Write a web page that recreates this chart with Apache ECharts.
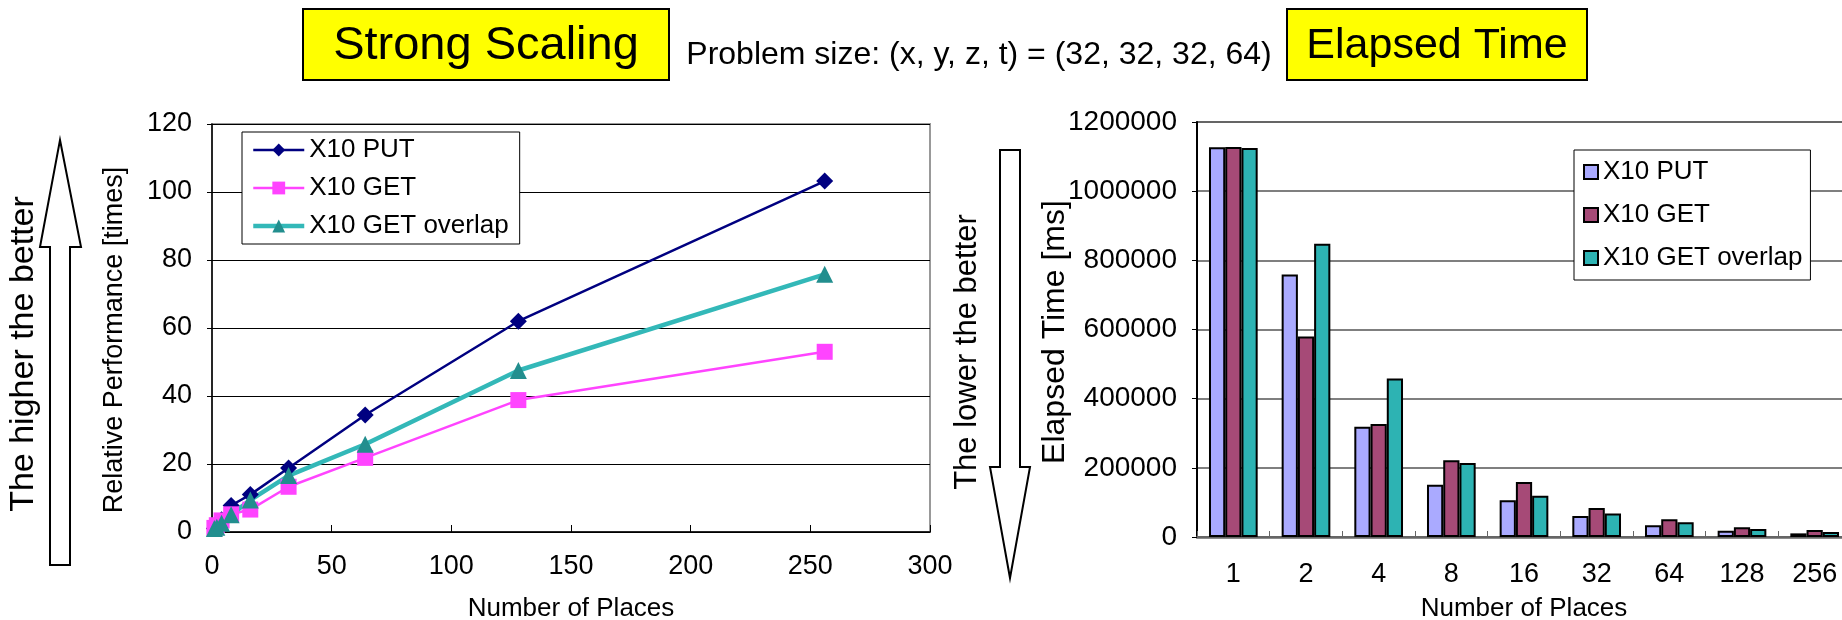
<!DOCTYPE html>
<html>
<head>
<meta charset="utf-8">
<script src="https://cdn.jsdelivr.net/npm/echarts@6/dist/echarts.min.js"></script>
<style>
  html, body { margin: 0; padding: 0; background: #fff; }
  #main { width: 1842px; height: 620px; }
</style>
</head>
<body>
<div id="main"></div>
<script>
// number of places (x values / categories)
var places = [1, 2, 4, 8, 16, 32, 64, 128, 256];
var seriesNames = ['X10 PUT', 'X10 GET', 'X10 GET overlap'];

// strong scaling: relative performance [times]
var perfPut     = [1, 1.5, 3.6, 7.8, 11, 18.8, 34.4, 62, 103.2];
var perfGet     = [1.2, 2, 3.4, 5.2, 6.6, 13.3, 21.8, 38.8, 53];
var perfOverlap = [1, 1.4, 2.6, 5.1, 9.4, 16.6, 25.8, 47.5, 75.8];

// elapsed time [ms]
var timePut     = [1127000, 759000, 319000, 151000, 106000, 61000, 34000, 18000, 10500];
var timeGet     = [1128000, 580000, 327000, 222000, 159000, 84000, 51000, 28000, 20000];
var timeOverlap = [1125000, 848000, 458000, 214000, 119000, 68000, 42500, 23000, 14500];

var FONT = '"Liberation Sans", Arial, sans-serif';
var barColors = ['#AAAAFF', '#A64A77', '#2DB3B3'];
var lineWidths = [2.5, 2.5, 4.5];

function pairs(vals) {
  return places.map(function (p, i) { return [p, vals[i]]; });
}

var chart = echarts.init(document.getElementById('main'));

var option = {
  animation: false,
  backgroundColor: '#fff',
  textStyle: { fontFamily: FONT, color: '#000' },
  grid: [
    { left: 212, top: 124, width: 718, height: 408, outerBoundsMode: 'none',
      show: true, borderColor: '#999', borderWidth: 2 },
    { left: 1197, top: 122, width: 654, height: 415, outerBoundsMode: 'none',
      show: true, borderColor: '#999', borderWidth: 2 }
  ],
  legend: [
    {
      selectedMode: false,
      orient: 'vertical',
      left: 242, top: 132,
      padding: [5, 11, 5, 9],
      itemGap: 12,
      itemWidth: 51, itemHeight: 16,
      backgroundColor: '#fff', borderColor: '#000', borderWidth: 1,
      textStyle: { fontSize: 26, lineHeight: 26, color: '#000', fontFamily: FONT },
      data: seriesNames.map(function (n, i) {
        return { name: n, lineStyle: { width: lineWidths[i] } };
      })
    },
    {
      selectedMode: false,
      orient: 'vertical',
      left: 1574, top: 150,
      padding: [9, 8, 9, 9],
      itemGap: 17,
      itemWidth: 14, itemHeight: 14,
      backgroundColor: '#fff', borderColor: '#000', borderWidth: 1,
      textStyle: { fontSize: 26, lineHeight: 26, color: '#000', fontFamily: FONT },
      data: seriesNames.map(function (n, i) {
        return { name: n, icon: 'rect', itemStyle: { color: barColors[i], borderColor: '#000', borderWidth: 2 } };
      })
    }
  ],
  xAxis: [
    {
      gridIndex: 0, type: 'value', min: 0, max: 300, interval: 50,
      axisLine: { lineStyle: { color: '#000', width: 1.5 } },
      axisTick: { show: true, inside: true, length: 7, lineStyle: { color: '#000' } },
      axisLabel: { fontSize: 27, margin: 21, color: '#000', fontFamily: FONT },
      splitLine: { show: false },
      name: 'Number of Places', nameLocation: 'middle', nameGap: 64,
      nameTextStyle: { fontSize: 26, color: '#000', fontFamily: FONT }
    },
    {
      gridIndex: 1, type: 'category', data: places.map(String),
      axisLine: { lineStyle: { color: '#666', width: 2.5 } },
      axisTick: { show: true, inside: true, length: 6, lineStyle: { color: '#666' } },
      axisLabel: { fontSize: 27, margin: 24, color: '#000', fontFamily: FONT },
      name: 'Number of Places', nameLocation: 'middle', nameGap: 59,
      nameTextStyle: { fontSize: 26, color: '#000', fontFamily: FONT }
    }
  ],
  yAxis: [
    {
      gridIndex: 0, type: 'value', min: 0, max: 120, interval: 20,
      axisLine: { show: true, lineStyle: { color: '#000', width: 1.5 } },
      axisTick: { show: true, length: 5, lineStyle: { color: '#000' } },
      axisLabel: { fontSize: 27, margin: 20, color: '#000', fontFamily: FONT },
      splitLine: { lineStyle: { color: '#000', width: 1 } }
    },
    {
      gridIndex: 1, type: 'value', min: 0, max: 1200000, interval: 200000,
      axisLine: { show: true, lineStyle: { color: '#000', width: 2 } },
      axisTick: { show: true, length: 5, lineStyle: { color: '#000' } },
      axisLabel: {
        fontSize: 28, margin: 20, color: '#000', fontFamily: FONT,
        formatter: function (v) { return String(v); }
      },
      splitLine: { lineStyle: { color: '#555', width: 1.5 } }
    }
  ],
  series: [
    {
      name: 'X10 PUT', type: 'line', xAxisIndex: 0, yAxisIndex: 0,
      data: pairs(perfPut),
      symbol: 'diamond', symbolSize: 17, showSymbol: true,
      lineStyle: { color: '#000080', width: lineWidths[0] },
      itemStyle: { color: '#000080' }
    },
    {
      name: 'X10 GET', type: 'line', xAxisIndex: 0, yAxisIndex: 0,
      data: pairs(perfGet),
      symbol: 'rect', symbolSize: 16, showSymbol: true,
      lineStyle: { color: '#FF44FF', width: lineWidths[1] },
      itemStyle: { color: '#FF44FF' }
    },
    {
      name: 'X10 GET overlap', type: 'line', xAxisIndex: 0, yAxisIndex: 0,
      data: pairs(perfOverlap),
      symbol: 'triangle', symbolSize: 17, showSymbol: true,
      lineStyle: { color: '#33B8B8', width: lineWidths[2] },
      itemStyle: { color: '#228E8E' }
    },
    {
      name: 'X10 PUT', type: 'bar', xAxisIndex: 1, yAxisIndex: 1,
      data: timePut, barGap: '0%', barCategoryGap: '33%',
      itemStyle: { color: barColors[0], borderColor: '#000', borderWidth: 2 }
    },
    {
      name: 'X10 GET', type: 'bar', xAxisIndex: 1, yAxisIndex: 1,
      data: timeGet, barGap: '0%', barCategoryGap: '33%',
      itemStyle: { color: barColors[1], borderColor: '#000', borderWidth: 2 }
    },
    {
      name: 'X10 GET overlap', type: 'bar', xAxisIndex: 1, yAxisIndex: 1,
      data: timeOverlap, barGap: '0%', barCategoryGap: '33%',
      itemStyle: { color: barColors[2], borderColor: '#000', borderWidth: 2 }
    }
  ],
  graphic: [
    // title boxes
    { type: 'rect', shape: { x: 303, y: 9, width: 366, height: 71 },
      style: { fill: '#FFFF00', stroke: '#000', lineWidth: 2 } },
    { type: 'text', x: 486, y: 46,
      style: { text: 'Strong Scaling', font: '47px ' + FONT, fill: '#000', align: 'center', verticalAlign: 'middle' } },
    { type: 'text', x: 979, y: 55,
      style: { text: 'Problem size: (x, y, z, t) = (32, 32, 32, 64)', font: '32px ' + FONT, fill: '#000', align: 'center', verticalAlign: 'middle' } },
    { type: 'rect', shape: { x: 1287, y: 9, width: 300, height: 71 },
      style: { fill: '#FFFF00', stroke: '#000', lineWidth: 2 } },
    { type: 'text', x: 1437, y: 46,
      style: { text: 'Elapsed Time', font: '43px ' + FONT, fill: '#000', align: 'center', verticalAlign: 'middle' } },
    // axis titles (vertical)
    { type: 'text', x: 115, y: 340, rotation: Math.PI / 2,
      style: { text: 'Relative Performance [times]', font: '27px ' + FONT, fill: '#000', align: 'center', verticalAlign: 'middle' } },
    { type: 'text', x: 1055, y: 332, rotation: Math.PI / 2,
      style: { text: 'Elapsed Time [ms]', font: '32px ' + FONT, fill: '#000', align: 'center', verticalAlign: 'middle' } },
    // up arrow (left)
    { type: 'polygon',
      shape: { points: [[60, 140], [81, 247], [70, 247], [70, 565], [50, 565], [50, 247], [40, 247]] },
      style: { fill: '#fff', stroke: '#000', lineWidth: 2 } },
    { type: 'text', x: 24, y: 354, rotation: Math.PI / 2,
      style: { text: 'The higher the better', font: '34px ' + FONT, fill: '#000', align: 'center', verticalAlign: 'middle' } },
    // down arrow (middle)
    { type: 'polygon',
      shape: { points: [[1000, 150], [1020, 150], [1020, 467], [1030, 467], [1010, 578], [990, 467], [1000, 467]] },
      style: { fill: '#fff', stroke: '#000', lineWidth: 2 } },
    { type: 'text', x: 967, y: 352, rotation: Math.PI / 2,
      style: { text: 'The lower the better', font: '31px ' + FONT, fill: '#000', align: 'center', verticalAlign: 'middle' } }
  ]
};

chart.setOption(option);
</script>
</body>
</html>
